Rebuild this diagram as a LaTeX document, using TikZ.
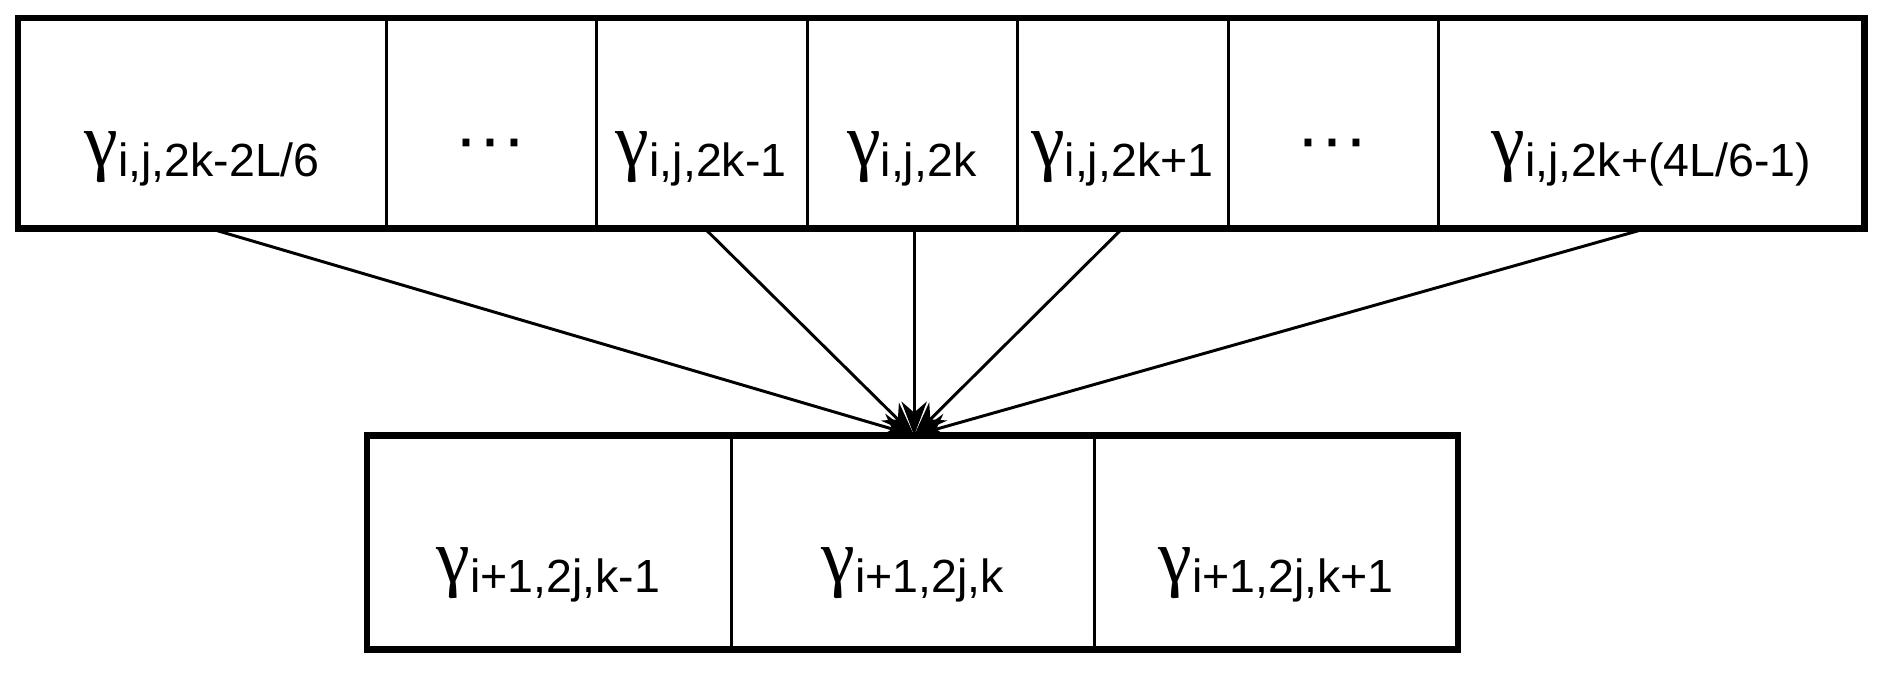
\documentclass[tikz,border=0pt]{standalone}
\usepackage{fontspec}
\setmainfont{Liberation Sans}
\newfontfamily\gfont{Liberation Serif}
\newcommand{\gsub}[1]{{\gfont\fontsize{18}{18}\selectfont γ}\raisebox{-0.45ex}{\fontsize{11}{11}\selectfont #1}}
\tikzset{thickbox/.style={line width=1.5pt},thin/.style={line width=0.7pt},
lbl/.style={inner sep=0pt,anchor=center},arr/.style={thin,-{Stealth[length=8pt,width=6pt]}}}
\usetikzlibrary{arrows.meta}
\begin{document}
\begin{tikzpicture}[x=0.01cm,y=-0.01cm]
\useasboundingbox (0,0) rectangle (1568,560);
\draw[thickbox] (15,15) rectangle (1550,190);
\foreach \x in {321,496,671,846,1021,1196} \draw[thin] (\x,15) -- (\x,190);
\draw[thickbox] (305,362) rectangle (1212,540);
\foreach \x in {608,910} \draw[thin] (\x,362) -- (\x,540);
\node[lbl] (t1) at (168,132) {\gsub{i,j,2k-2L/6}};
\node[lbl] (t2) at (408,125) {\fontsize{17}{17}\selectfont ···};
\node[lbl] (t3) at (583,132) {\gsub{i,j,2k-1}};
\node[lbl] (t4) at (758,132) {\gsub{i,j,2k}};
\node[lbl] (t5) at (933,132) {\gsub{i,j,2k+1}};
\node[lbl] (t6) at (1108,125) {\fontsize{17}{17}\selectfont ···};
\node[lbl] (t7) at (1373,132) {\gsub{i,j,2k+(4L/6-1)}};
\node[lbl] (b1) at (456,478) {\gsub{i+1,2j,k-1}};
\node[lbl] (b2) at (759,478) {\gsub{i+1,2j,k}};
\node[lbl] (b3) at (1061,478) {\gsub{i+1,2j,k+1}};
\coordinate (tgt) at (760,362);
\coordinate (s1) at (178,191); \coordinate (s2) at (587,191); \coordinate (s3) at (760,191);
\coordinate (s4) at (932,191); \coordinate (s5) at (1365,191);
\foreach \s in {s1,s2,s3,s4,s5} \draw[arr] (\s) -- (tgt);
\end{tikzpicture}
\end{document}
